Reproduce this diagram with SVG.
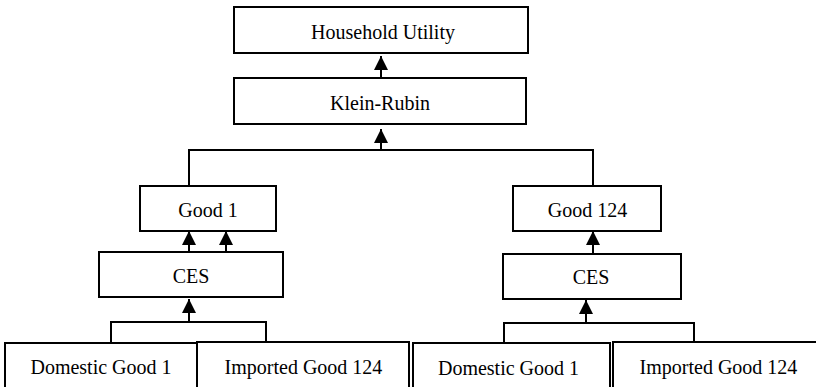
<svg xmlns="http://www.w3.org/2000/svg" width="816" height="387" viewBox="0 0 816 387">
<style>
.box{fill:#fff;stroke:#000;stroke-width:2}
.lbl{font-family:"Liberation Serif","Times New Roman",serif;font-size:20px;fill:#000;text-anchor:middle}
.ln{fill:none;stroke:#000;stroke-width:2}
.arr{fill:none;stroke:#000;stroke-width:2;marker-end:url(#ah)}
</style>
<defs>
<marker id="ah" markerUnits="userSpaceOnUse" markerWidth="15" markerHeight="14" refX="14" refY="7" orient="auto" viewBox="0 0 15 14">
<path d="M0,0 L14,7 L0,14 z" fill="#000"/>
</marker>
</defs>
<rect width="816" height="387" fill="#fff"/>
<g id="connectors">
<line class="arr" x1="381" y1="78" x2="381" y2="56"/>
<polyline class="ln" points="189,186 189,150 593,150 593,186"/>
<line class="arr" x1="381" y1="150" x2="381" y2="129"/>
<line class="arr" x1="189" y1="252" x2="189" y2="231"/>
<line class="arr" x1="226" y1="252" x2="226" y2="231"/>
<line class="arr" x1="593" y1="254" x2="593" y2="231"/>
<polyline class="ln" points="111,343 111,322 266,322 266,343"/>
<line class="arr" x1="189" y1="322" x2="189" y2="299"/>
<polyline class="ln" points="504,342 504,323 694,323 694,342"/>
<line class="arr" x1="586" y1="323" x2="586" y2="300"/>
</g>
<g id="household-utility">
<rect class="box" x="234" y="7" width="294" height="46"/>
<text class="lbl" x="383" y="38.5">Household Utility</text>
</g>
<g id="klein-rubin">
<rect class="box" x="234" y="78" width="292" height="46"/>
<text class="lbl" x="380" y="110">Klein-Rubin</text>
</g>
<g id="good-1">
<rect class="box" x="140" y="186" width="136" height="45"/>
<text class="lbl" x="208" y="216.5">Good 1</text>
</g>
<g id="good-124">
<rect class="box" x="513" y="186" width="148" height="45"/>
<text class="lbl" x="587.5" y="216.5">Good 124</text>
</g>
<g id="ces-left">
<rect class="box" x="99" y="252" width="184" height="45"/>
<text class="lbl" x="191" y="283">CES</text>
</g>
<g id="ces-right">
<rect class="box" x="503" y="254" width="178" height="45"/>
<text class="lbl" x="591" y="284">CES</text>
</g>
<g id="domestic-good-1-left">
<rect class="box" x="5" y="343" width="192" height="60" stroke-width="2.5"/>
<text class="lbl" x="101" y="374">Domestic Good 1</text>
</g>
<g id="imported-good-124-left">
<rect class="box" x="197" y="342" width="212" height="60"/>
<text class="lbl" x="303.5" y="374">Imported Good 124</text>
</g>
<g id="domestic-good-1-right">
<rect class="box" x="413" y="343" width="197" height="60"/>
<text class="lbl" x="508.5" y="375">Domestic Good 1</text>
</g>
<g id="imported-good-124-right">
<rect class="box" x="613" y="342" width="220" height="60"/>
<text class="lbl" x="718.5" y="374">Imported Good 124</text>
</g>
</svg>
